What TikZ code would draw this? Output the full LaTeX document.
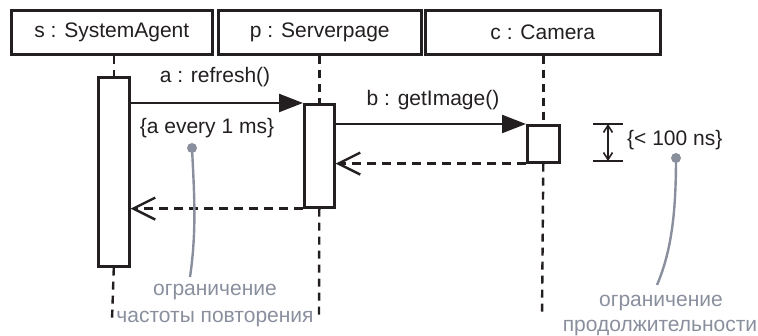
\documentclass[tikz,border=0pt]{standalone}
\usepackage{fontspec}
\setmainfont{Liberation Sans}
\usetikzlibrary{arrows.meta}
\definecolor{ink}{HTML}{231F20}
\definecolor{note}{HTML}{8A8F9E}
\begin{document}
\begin{tikzpicture}[x=1pt,y=-1pt,
  every node/.style={font=\fontsize{21}{25}\selectfont, text=ink, inner sep=0pt},
  obj/.style={draw=ink, line width=2.6pt, minimum height=44pt, anchor=north west},
  act/.style={draw=ink, line width=2.6pt, fill=white, anchor=north west},
  life/.style={draw=ink, line width=2.4pt, dash pattern=on 8pt off 6pt},
  msg/.style={draw=ink, line width=2.4pt, -{Triangle[length=24pt,width=18pt]}},
  ret/.style={draw=ink, line width=2.4pt, dash pattern=on 9pt off 6pt, -{Straight Barb[length=22pt,width=22pt,line width=2.4pt]}},
  lbl/.style={text=ink},
  notetxt/.style={text=note},
  notecurve/.style={draw=note, line width=2.4pt},
  dur/.style={draw=ink, line width=2.6pt}
]
\useasboundingbox (0,0) rectangle (758,336);
% objects
\node[obj, minimum width=201pt] (s) at (10,9) {s : SystemAgent};
\node[obj, minimum width=203pt] (p) at (217,9) {p : Serverpage};
\node[obj, minimum width=235pt] (c) at (424,9) {c : Camera};
% activations
\node[act, minimum width=31pt, minimum height=189pt] (sa) at (97,76) {};
\node[act, minimum width=30pt, minimum height=103pt] (pa) at (303,103) {};
\node[act, minimum width=32pt, minimum height=37pt] (ca) at (526,124) {};
% lifeline ends
\coordinate (send) at (112,320);
\coordinate (pend) at (319,320);
\coordinate (cend) at (542,317);
% lifelines
\draw[life] (s.south -| sa.north) -- (sa.north);
\draw[life] (sa.south) -- (send);
\draw[life] (p.south -| pa.north) -- (pa.north);
\draw[life] (pa.south) -- (pend);
\draw[life] (c.south -| ca.north) -- (ca.north);
\draw[life] (ca.south) -- (cend);
% messages
\draw[msg] (sa.east |- pa.north) -- (pa.north west);
\draw[msg] (pa.east |- ca.north) -- (ca.north west);
\draw[ret] (ca.south west) -- (pa.east |- ca.south);
\draw[ret] (pa.south west) -- (sa.east |- pa.south);
\node[lbl] (la) at (215,77) {a : refresh()};
\node[lbl] (lb) at (433,100) {b : getImage()};
\node[lbl] (lc) at (207,128) {\{a every 1 ms\}};
% duration constraint
\coordinate (d1a) at (593,124); \coordinate (d1b) at (623,124);
\coordinate (d2a) at (593,161); \coordinate (d2b) at (623,161);
\coordinate (dt) at (608,124); \coordinate (db) at (608,161);
\draw[dur] (d1a) -- (d1b);
\draw[dur] (d2a) -- (d2b);
\draw[draw=ink, line width=1.6pt, {Straight Barb[length=7pt,width=9pt]}-{Straight Barb[length=7pt,width=9pt]}] (dt) -- (db);
\node[lbl, anchor=west] (ld) at (627,140) {\{< 100 ns\}};
% notes
\node[circle, fill=note, minimum size=10pt] (dot1) at (192,148) {};
\node[circle, fill=note, minimum size=10pt] (dot2) at (676,158) {};
\node[notetxt] (n1a) at (215,292) {ограничение};
\node[notetxt] (n1b) at (215,319) {частоты повторения};
\node[notetxt] (n2a) at (661,303) {ограничение};
\node[notetxt] (n2b) at (660,328) {продолжительности};
\coordinate (e1) at (190,277);
\coordinate (e2) at (657,285);
\draw[notecurve] (dot1.center) .. controls (194,190) and (197,230) .. (e1);
\draw[notecurve] (dot2.center) .. controls (676,210) and (672,250) .. (e2);
\end{tikzpicture}
\end{document}
